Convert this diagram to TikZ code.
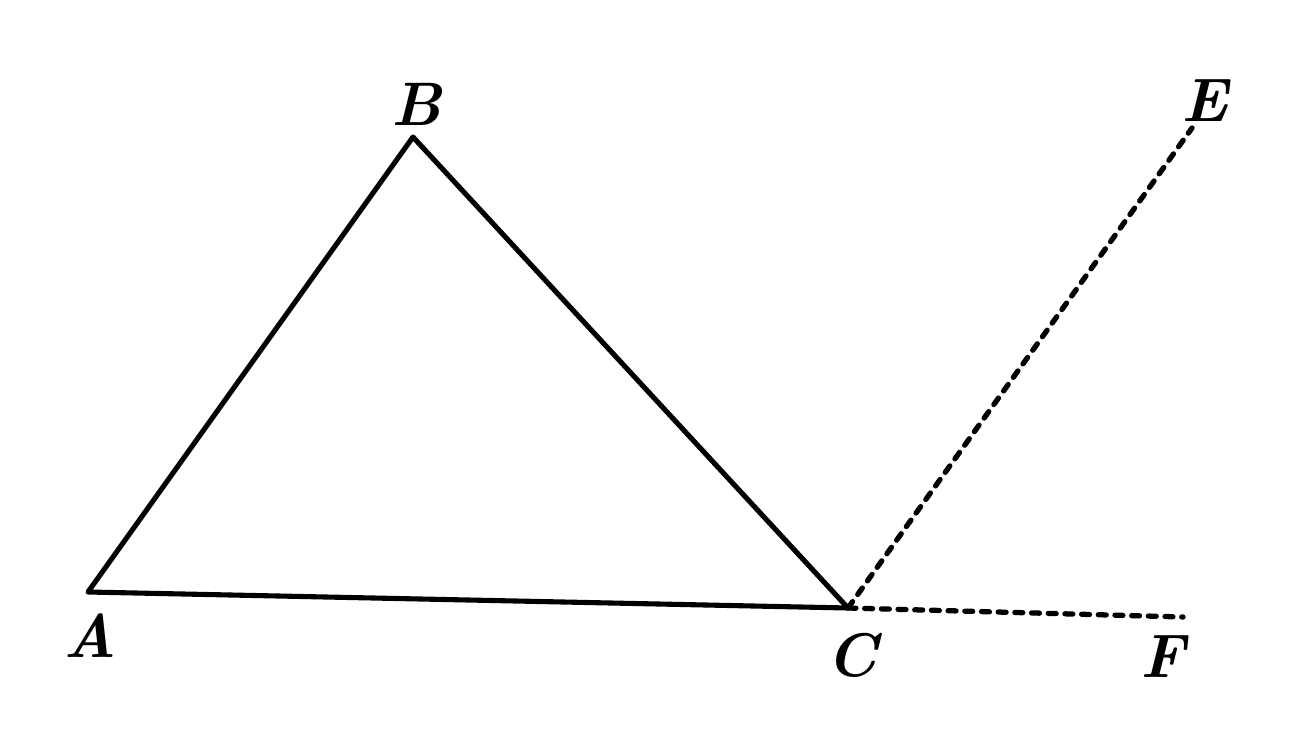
\documentclass[tikz,border=0pt]{standalone}
\usetikzlibrary{positioning}

\begin{document}
\begin{tikzpicture}[%
    x = 0.02cm,
    y = -0.02cm,
    side/.style = {%
      line width = 2.9pt,
      line join = round,
      line cap = round },
    guide/.style = {%
      line width = 3pt,
      line cap = round,
      dash pattern = on 4.5pt off 5pt },
    vlabel/.style = {%
      font = \fontsize{35}{40}\selectfont\bfseries\itshape,
      inner sep = 0pt }
  ]

\useasboundingbox (0,0) rectangle (1300,739);

\coordinate (A) at (88,592);
\coordinate (B) at (413,137);
\coordinate (C) at (848,608);
\coordinate (E) at (1192,128);
\coordinate (F) at (1183,617);

\node[vlabel] (lA) at (90,636) {A};
\node[vlabel] (lB) at (417,104) {B};
\node[vlabel] (lC) at (852,655) {C};
\node[vlabel] (lE) at (1205,101) {E};
\node[vlabel] (lF) at (1163,657) {F};

\draw[side] (A) -- (B) -- (C) -- cycle;

\draw[guide] (C) -- (E);
\draw[guide] (C) -- (F);

\end{tikzpicture}
\end{document}
